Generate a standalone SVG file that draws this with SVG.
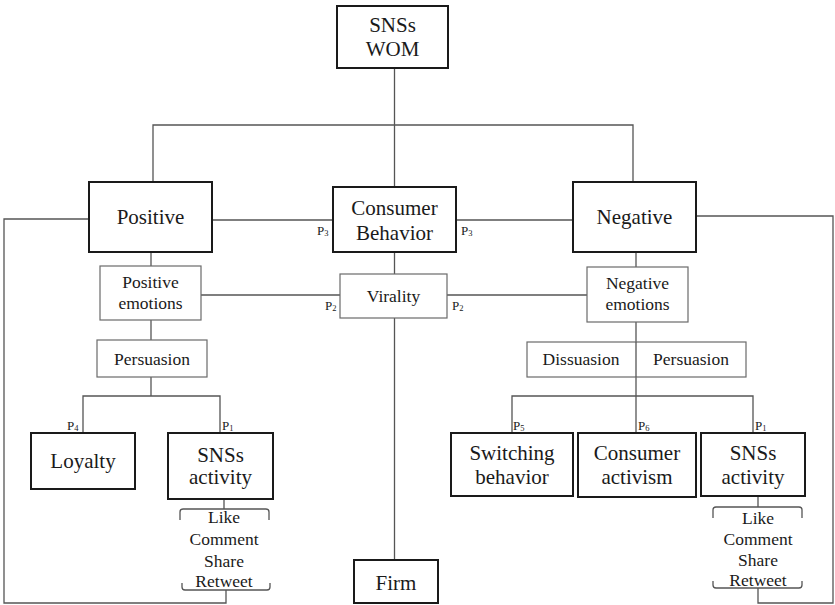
<svg xmlns="http://www.w3.org/2000/svg" width="835" height="605" viewBox="0 0 835 605">
<style>
.thick{fill:#fff;stroke:#1a1a1a;stroke-width:2}
.thin{fill:#fff;stroke:#6a6a6a;stroke-width:1.2}
.ln{fill:none;stroke:#555;stroke-width:1.3}
text{font-family:"Times New Roman",Times,"Liberation Serif","Nimbus Roman","Noto Serif","DejaVu Serif",serif;fill:#1a1a1a;text-anchor:middle}
.big{font-size:21px}
.sm{font-size:17.5px}
.p{font-size:13px;text-anchor:start}
.p tspan{font-size:8.5px}
</style>
<rect width="835" height="605" fill="#fff"/>
<g id="connectors">
<path class="ln" d="M394.5,68 V187"/>
<path class="ln" d="M153,182 V125 H633 V182"/>
<path class="ln" d="M89,219 H4 V603 H226 V590"/>
<path class="ln" d="M212,220 H333"/>
<path class="ln" d="M456,220 H573"/>
<path class="ln" d="M696,216 H833 V603 H758 V588"/>
<path class="ln" d="M151,252 V266"/>
<path class="ln" d="M394.5,252 V274"/>
<path class="ln" d="M636,252 V267"/>
<path class="ln" d="M201,295 H340"/>
<path class="ln" d="M447,295 H587"/>
<path class="ln" d="M394.5,318 V560"/>
<path class="ln" d="M151,320 V340"/>
<path class="ln" d="M151,377 V396"/>
<path class="ln" d="M83,433 V396 H220 V433"/>
<path class="ln" d="M636,322 V433"/>
<path class="ln" d="M512,433 V396 H753 V433"/>
<path class="ln" d="M224,499 V509 M180,520 V512 Q180,509 183,509 H266 Q269,509 269,512 V520"/>
<path class="ln" d="M182,583 V587 Q182,590 185,590 H267 Q270,590 270,587 V583"/>
<path class="ln" d="M758,496 V507 M713,518 V510 Q713,507 716,507 H799 Q802,507 802,510 V518"/>
<path class="ln" d="M713,581 V585 Q713,588 716,588 H799 Q802,588 802,585 V581"/>
<text class="p" x="317" y="235">P<tspan dy="1">3</tspan></text>
<text class="p" x="461" y="235">P<tspan dy="1">3</tspan></text>
<text class="p" x="325" y="310">P<tspan dy="1">2</tspan></text>
<text class="p" x="452" y="310">P<tspan dy="1">2</tspan></text>
<text class="p" x="67" y="430">P<tspan dy="1">4</tspan></text>
<text class="p" x="222" y="430">P<tspan dy="1">1</tspan></text>
<text class="p" x="513" y="430">P<tspan dy="1">5</tspan></text>
<text class="p" x="638" y="430">P<tspan dy="1">6</tspan></text>
<text class="p" x="755" y="430">P<tspan dy="1">1</tspan></text>
</g>
<g id="wom"><rect class="thick" x="337" y="6" width="111" height="62"/><text class="big" x="392.5" y="32">SNSs</text><text class="big" x="392.5" y="56">WOM</text></g>
<g id="positive"><rect class="thick" x="89" y="182" width="123" height="70"/><text class="big" x="150.5" y="224">Positive</text></g>
<g id="consumer-behavior"><rect class="thick" x="333" y="187" width="123" height="65"/><text class="big" x="394.5" y="215">Consumer</text><text class="big" x="394.5" y="240">Behavior</text></g>
<g id="negative"><rect class="thick" x="573" y="182" width="123" height="70"/><text class="big" x="634.5" y="224">Negative</text></g>
<g id="positive-emotions"><rect class="thin" x="100" y="266" width="101" height="54"/><text class="sm" x="150.5" y="288">Positive</text><text class="sm" x="150.5" y="309">emotions</text></g>
<g id="virality"><rect class="thin" x="340" y="274" width="107" height="44"/><text class="sm" x="393.5" y="302">Virality</text></g>
<g id="negative-emotions"><rect class="thin" x="587" y="267" width="101" height="55"/><text class="sm" x="637.5" y="289">Negative</text><text class="sm" x="637.5" y="310">emotions</text></g>
<g id="persuasion-left"><rect class="thin" x="97" y="340" width="110" height="37"/><text class="sm" x="152" y="365">Persuasion</text></g>
<g id="dissuasion-persuasion"><rect class="thin" x="527" y="342" width="219" height="35"/><path class="ln" d="M636,342 V377"/><text class="sm" x="581" y="365">Dissuasion</text><text class="sm" x="691" y="365">Persuasion</text></g>
<g id="loyalty"><rect class="thick" x="31" y="433" width="104" height="56"/><text class="big" x="83" y="468">Loyalty</text></g>
<g id="sns-activity-left"><rect class="thick" x="168" y="433" width="105" height="66"/><text class="big" x="220.5" y="462">SNSs</text><text class="big" x="220.5" y="484">activity</text></g>
<g id="actions-left"><text class="sm" x="224" y="523">Like</text><text class="sm" x="224" y="545">Comment</text><text class="sm" x="224" y="567">Share</text><text class="sm" x="224" y="587">Retweet</text></g>
<g id="switching"><rect class="thick" x="451" y="433" width="122" height="63"/><text class="big" x="512" y="460">Switching</text><text class="big" x="512" y="484">behavior</text></g>
<g id="activism"><rect class="thick" x="578" y="433" width="118" height="64"/><text class="big" x="637" y="460">Consumer</text><text class="big" x="637" y="484">activism</text></g>
<g id="sns-activity-right"><rect class="thick" x="701" y="433" width="104" height="63"/><text class="big" x="753" y="460">SNSs</text><text class="big" x="753" y="484">activity</text></g>
<g id="actions-right"><text class="sm" x="758" y="524">Like</text><text class="sm" x="758" y="545">Comment</text><text class="sm" x="758" y="566">Share</text><text class="sm" x="758" y="586">Retweet</text></g>
<g id="firm"><rect class="thick" x="354" y="560" width="84" height="43"/><text class="big" x="396" y="590">Firm</text></g>
</svg>
